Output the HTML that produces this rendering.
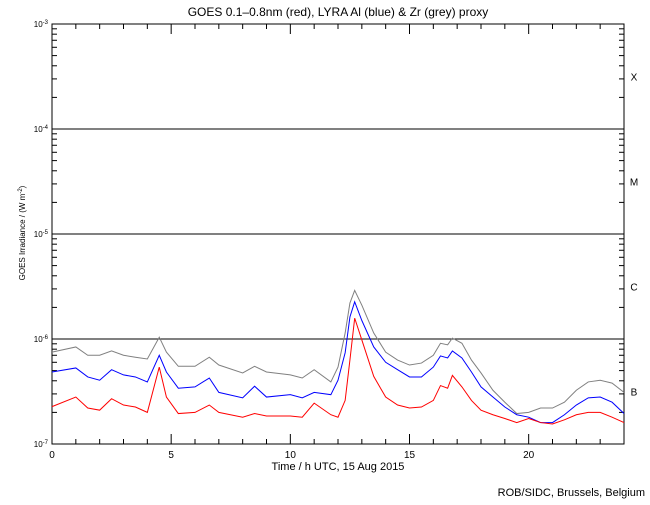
<!DOCTYPE html>
<html><head><meta charset="utf-8"><style>
body{margin:0;background:#fff;}
svg text{font-family:"Liberation Sans",sans-serif;fill:#000;}
</style></head><body>
<svg id="chart" width="650" height="500" viewBox="0 0 650 500" xmlns="http://www.w3.org/2000/svg">
<rect width="650" height="500" fill="#fff"/>
<text x="338" y="16" font-size="12" text-anchor="middle">GOES 0.1–0.8nm (red), LYRA Al (blue) &amp; Zr (grey) proxy</text>
<g id="axes"></g>
<g id="series"></g>
<text x="338" y="470" font-size="11" text-anchor="middle">Time / h UTC, 15 Aug 2015</text>
<text transform="translate(25,233) rotate(-90)" font-size="8" text-anchor="middle">GOES Irradiance / (W m<tspan dy="-3" font-size="6">-2</tspan><tspan dy="3">)</tspan></text>
<text x="645" y="496" font-size="11" text-anchor="end">ROB/SIDC, Brussels, Belgium</text>
</svg>
<script>
// values in units of 1e-7 W/m^2
const hours = [0,1,1.5,2,2.5,3,3.5,4,4.5,4.8,5.3,6,6.6,7,8,8.5,9,10,10.5,11,11.7,12,12.3,12.5,12.7,13,13.5,14,14.5,15,15.5,16,16.3,16.6,16.8,17.2,17.6,18,18.5,19,19.5,20,20.5,21,21.5,22,22.5,23,23.5,24];
const redValues = [2.27,2.8,2.2,2.1,2.7,2.35,2.25,2.0,5.4,2.8,1.95,2.0,2.35,2.0,1.8,1.95,1.85,1.85,1.8,2.45,1.9,1.8,2.6,6.3,15.8,9.8,4.4,2.8,2.35,2.2,2.25,2.6,3.6,3.4,4.5,3.5,2.6,2.1,1.9,1.75,1.6,1.75,1.6,1.55,1.7,1.9,2.0,2.0,1.8,1.6];
const blueValues = [4.85,5.3,4.35,4.05,5.1,4.55,4.35,3.9,7.0,4.85,3.4,3.5,4.25,3.1,2.75,3.55,2.8,2.95,2.75,3.1,2.95,4.05,7.4,16.2,22.6,15,8.4,6.0,5.1,4.35,4.35,5.4,6.9,6.6,7.7,6.6,4.85,3.5,2.8,2.25,1.9,1.8,1.6,1.6,1.9,2.35,2.75,2.8,2.5,1.95];
const greyValues = [7.5,8.4,7.0,7.0,7.7,7.0,6.7,6.45,10.4,7.5,5.5,5.5,6.7,5.65,4.75,5.5,4.85,4.55,4.25,5.1,3.9,5.4,11.4,22,29,21,11.4,7.5,6.3,5.65,5.9,7.0,9.1,8.8,10.2,9.1,6.3,4.75,3.25,2.5,1.95,2.0,2.2,2.2,2.5,3.25,3.9,4.05,3.8,3.1];
const xTickLabels = [0,5,10,15,20];
const decadeExps = [-7,-6,-5,-4,-3];
const classLabels = ["B","C","M","X"];

const L=52,R=624,T=24,B=444;
const xS=h=>L+(R-L)*h/24;
const yS=v=>B-(B-T)*(Math.log10(v*1e-7)+7)/4;
const yE=e=>B-(B-T)*(e+7)/4;
const NS="http://www.w3.org/2000/svg";
const ax=document.getElementById('axes'), sg=document.getElementById('series');
function mk(tag,attrs,parent){const e=document.createElementNS(NS,tag);for(const k in attrs)e.setAttribute(k,attrs[k]);parent.appendChild(e);return e;}

const frame=mk('rect',{x:L,y:T,width:R-L,height:B-T,fill:'none',stroke:'#000','stroke-width':1},ax);



[-6,-5,-4].forEach(e=>{
  const ln=mk('line',{x1:L,x2:R,y1:yE(e),y2:yE(e),stroke:'#000','stroke-width':1},ax);
  
  
});
decadeExps.forEach(e=>{
  const t=mk('text',{x:L-4,y:yE(e)+3,'font-size':8,'text-anchor':'end'},ax);
  
  
  t.innerHTML='10<tspan dy="-3" font-size="6">'+e+'</tspan>';
  if(e<-3){for(let m=2;m<=9;m++){const y=yE(e+Math.log10(m));
    mk('line',{x1:L,x2:L+5,y1:y,y2:y,stroke:'#000'},ax);
    mk('line',{x1:R,x2:R-5,y1:y,y2:y,stroke:'#000'},ax);}}
});
classLabels.forEach((c,i)=>{
  const t=mk('text',{x:634,y:yE(-6.5+i)+4,'font-size':10,'text-anchor':'middle'},ax);
  
  
  t.textContent=c;
});
for(let h=0;h<=24;h++){const x=xS(h);const len=h%5===0?10:5;
  mk('line',{x1:x,x2:x,y1:B,y2:B-len,stroke:'#000'},ax);
  mk('line',{x1:x,x2:x,y1:T,y2:T+len,stroke:'#000'},ax);}
xTickLabels.forEach(h=>{
  const t=mk('text',{x:xS(h),y:B+14,'font-size':10,'text-anchor':'middle'},ax);
  
  
  t.textContent=h;
});
function series(vals,color,name){
  const p=mk('polyline',{points:hours.map((h,i)=>xS(h)+','+yS(vals[i])).join(' '),fill:'none',stroke:color,'stroke-width':1},sg);
  
  
}
series(greyValues,'#808080','lyra-zr-series');
series(blueValues,'#0000ff','lyra-al-series');
series(redValues,'#ff0000','goes-series');
</script>
</body></html>
